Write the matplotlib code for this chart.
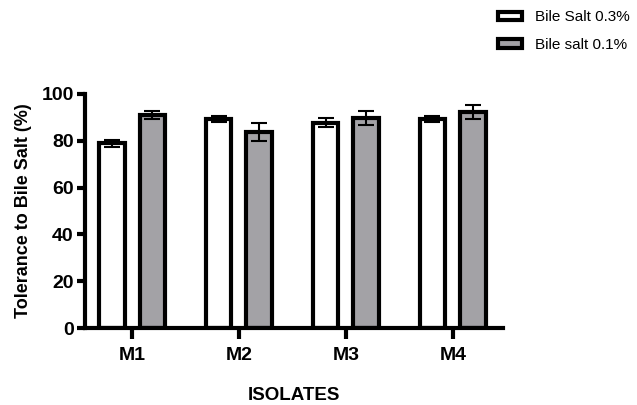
import matplotlib
matplotlib.use("Agg")
from matplotlib import pyplot as plt
from matplotlib.patches import Patch
import numpy as np

plt.rcParams['font.family'] = ['Liberation Sans', 'DejaVu Sans']

isolates = ["M1", "M2", "M3", "M4"]
bile_03 = [79.0, 89.3, 87.8, 89.3]
bile_03_err = [1.5, 1.4, 2.0, 1.3]
bile_01 = [91.0, 83.6, 89.7, 92.1]
bile_01_err = [1.8, 3.8, 3.1, 3.0]

x = np.arange(len(isolates))
w = 0.24
off = 0.19

fig = plt.figure(figsize=(6.37, 4.05), dpi=100)
ax = fig.add_axes([0.1334, 0.19, 0.6563, 0.578])

ax.bar(x - off, bile_03, w, color='white', edgecolor='black', linewidth=3, zorder=2)
ax.bar(x + off, bile_01, w, color='#a3a2a6', edgecolor='black', linewidth=3, zorder=2)
ax.errorbar(x - off, bile_03, yerr=bile_03_err, fmt='none', ecolor='black',
            elinewidth=1.5, capsize=6, capthick=1.5, zorder=3)
ax.errorbar(x + off, bile_01, yerr=bile_01_err, fmt='none', ecolor='black',
            elinewidth=1.5, capsize=6, capthick=1.5, zorder=3)

ax.set_xlim(-0.44, 3.47)
ax.set_ylim(0, 100)
ax.set_yticks(range(0, 101, 20))
ax.set_xticks(x)
ax.set_xticklabels(isolates)
for s in ['top', 'right']:
    ax.spines[s].set_visible(False)
for s in ['left', 'bottom']:
    ax.spines[s].set_linewidth(3)
ax.tick_params(axis='y', width=3, length=6, pad=2, labelsize=14)
ax.tick_params(axis='x', width=3, length=8, pad=6, labelsize=14)
for lbl in ax.get_xticklabels() + ax.get_yticklabels():
    lbl.set_fontweight('bold')

ax.set_ylabel("Tolerance to Bile Salt (%)", fontsize=13, fontweight='bold', labelpad=7)
ax.set_xlabel("ISOLATES", fontsize=13.5, fontweight='bold', labelpad=16)

handles = [Patch(facecolor='white', edgecolor='black', linewidth=3, label='Bile Salt 0.3%'),
           Patch(facecolor='#a3a2a6', edgecolor='black', linewidth=3, label='Bile salt 0.1%')]
fig.legend(handles=handles, loc='upper left', bbox_to_anchor=(0.772, 0.99), frameon=False,
           borderaxespad=0, borderpad=0.4, fontsize=11, handlelength=1.55,
           handleheight=0.45, handletextpad=0.9, labelspacing=0.9)

fig.savefig("out.png", dpi=100)
